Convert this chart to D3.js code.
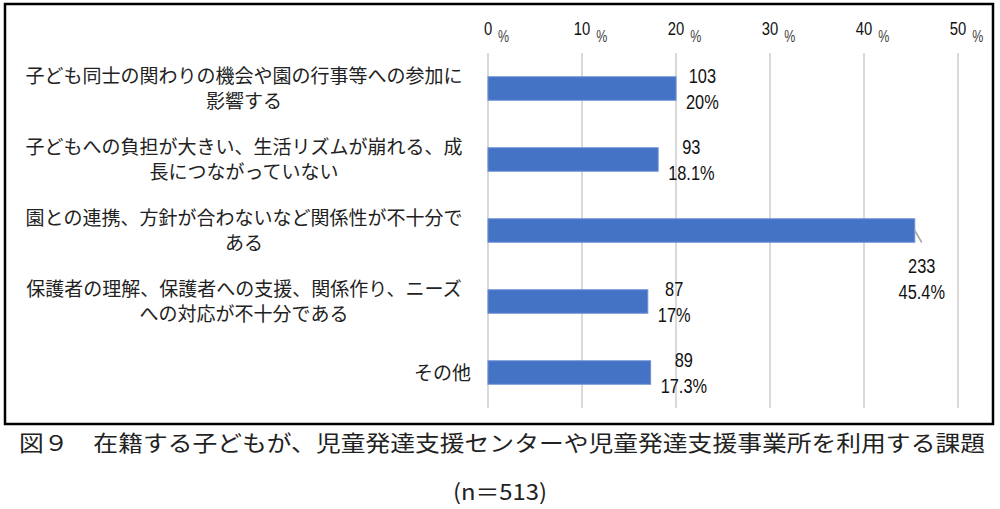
<!DOCTYPE html>
<html>
<head>
<meta charset="utf-8">
<script src="https://cdn.jsdelivr.net/npm/d3@7"></script>
<style>
  body { margin: 0; background: #fff; }
  svg { display: block; }
</style>
</head>
<body>
<div id="chart-area"></div>
<script>
// 課題 (n=513)
const categories = [
    ["子ども同士の関わりの機会や園の行事等への参加に", "影響する"],
    ["子どもへの負担が大きい、生活リズムが崩れる、成", "長につながっていない"],
    ["園との連携、方針が合わないなど関係性が不十分で", "ある"],
    ["保護者の理解、保護者への支援、関係作り、ニーズ", "への対応が不十分である"],
    ["その他"]
]
const counts = [103, 93, 233, 87, 89]
const percents = [20, 18.1, 45.4, 17, 17.3]
const ticks = [0, 10, 20, 30, 40, 50]
const title = "図９　在籍する子どもが、児童発達支援センターや児童発達支援事業所を利用する課題"
const subtitle = "(n＝513)"

const W = 1000, H = 509
const plot = { left: 488, right: 958, top: 53, bottom: 408 }

const svg = d3.select("#chart-area").append("svg")
    .attr("width", W)
    .attr("height", H)

const jp = "'Noto Sans CJK JP', 'Noto Sans', sans-serif"
const digits = "'Liberation Sans', 'DejaVu Sans', sans-serif"
const squeeze = 0.78   // the original digits are narrow and tall

// narrow text: drawn at the origin of a squeezed group
function narrowText(parent, x, y, size, anchor) {
    return parent.append("g")
        .attr("transform", `translate(${x}, ${y}) scale(${squeeze}, 1)`)
        .append("text")
        .attr("text-anchor", anchor)
        .attr("font-family", digits)
        .attr("font-size", size)
}

// frame
svg.append("rect")
    .attr("x", 5).attr("y", 4)
    .attr("width", 988).attr("height", 420)
    .attr("fill", "#fff")
    .attr("stroke", "#000")
    .attr("stroke-width", 2.5)

const x = d3.scaleLinear()
    .domain([0, 50])
    .range([plot.left, plot.right])

const y = d3.scaleBand()
    .domain(d3.range(categories.length))
    .range([plot.top, plot.bottom])
    .paddingInner(0.67)
    .paddingOuter(0.335)

// gridlines
svg.append("g").selectAll("line").data(ticks).enter()
    .append("line")
    .attr("x1", d => x(d)).attr("x2", d => x(d))
    .attr("y1", plot.top).attr("y2", plot.bottom)
    .attr("stroke", "#d9d9d9")
    .attr("stroke-width", 2)

// top tick labels: number centred on the tick, "%" following
const tickG = svg.append("g")
ticks.forEach(t => {
    const num = narrowText(tickG, x(t), 35, "19px", "middle")
        .attr("fill", "#111")
        .text(t)
    const w = num.node().getComputedTextLength() * squeeze
    narrowText(tickG, x(t) + w / 2 + 6, 42, "16px", "start")
        .attr("fill", "#444")
        .text("%")
})

// bars
svg.append("g").selectAll("rect").data(percents).enter()
    .append("rect")
    .attr("x", x(0))
    .attr("y", (d, i) => y(i))
    .attr("width", d => x(d) - x(0))
    .attr("height", y.bandwidth())
    .attr("fill", "#4472C4")
    .attr("stroke", "#6a8fd4")
    .attr("stroke-width", 1)

// category labels
const catG = svg.append("g")
categories.forEach((lines, i) => {
    const cy = y(i) + y.bandwidth() / 2
    const single = lines.length === 1
    const t = catG.append("text")
        .attr("font-family", jp)
        .attr("font-size", "19px")
        .attr("fill", "#222")
        .attr("text-anchor", single ? "end" : "middle")
    lines.forEach((ln, k) => {
        t.append("tspan")
            .attr("x", single ? 471 : 244)
            .attr("y", cy + 7 + (k - (lines.length - 1) / 2) * 25)
            .text(ln)
    })
})

// data labels
const lblG = svg.append("g")
percents.forEach((p, i) => {
    const cy = y(i) + y.bandwidth() / 2
    const lines = [String(counts[i]), p + "%"]
    const g = lblG.append("g")
    const texts = lines.map(ln => narrowText(g, 0, 0, "21px", "middle")
        .attr("fill", "#111")
        .text(ln))
    const wMax = d3.max(texts, s => s.node().getComputedTextLength()) * squeeze
    let cx = x(p) + 10 + wMax / 2
    let y0 = cy - 6
    if (cx + wMax / 2 > plot.right) {
        // no room to the right: put it under the bar end with a leader
        cx = x(p) + 7
        y0 = cy + 42
        lblG.append("line")
            .attr("x1", x(p)).attr("y1", cy)
            .attr("x2", x(p) + 7).attr("y2", cy + 12)
            .attr("stroke", "#a6a6a6")
            .attr("stroke-width", 1.5)
    }
    texts.forEach((s, k) => d3.select(s.node().parentNode)
        .attr("transform", `translate(${cx}, ${y0 + k * 26}) scale(${squeeze}, 1)`))
})

// caption
svg.append("text")
    .attr("x", 19)
    .attr("y", 451)
    .attr("font-family", jp)
    .attr("font-size", "22px")
    .attr("fill", "#222")
    .attr("textLength", 966)
    .attr("lengthAdjust", "spacingAndGlyphs")
    .text(title)

svg.append("text")
    .attr("x", 453)
    .attr("y", 500)
    .attr("font-family", jp)
    .attr("font-size", "22px")
    .attr("fill", "#222")
    .attr("textLength", 94)
    .attr("lengthAdjust", "spacingAndGlyphs")
    .text(subtitle)
</script>
</body>
</html>
